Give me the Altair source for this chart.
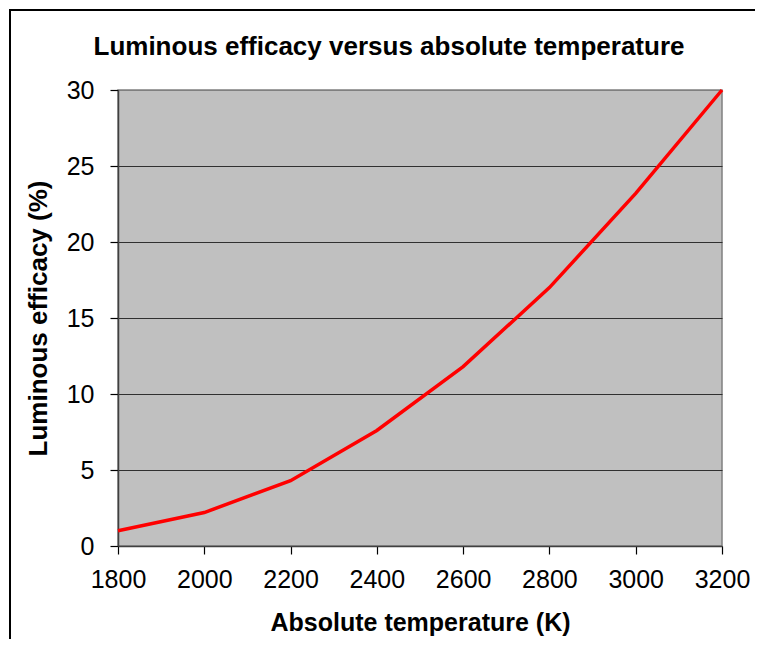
import altair as alt
import pandas as pd

temperature = [1800, 2000, 2200, 2400, 2600, 2800, 3000, 3200]
efficacy = [1.0, 2.2, 4.3, 7.6, 11.8, 17.0, 23.2, 30.0]
x_ticks = [1800, 2000, 2200, 2400, 2600, 2800, 3000, 3200]
y_ticks = [0, 5, 10, 15, 20, 25, 30]
title_text = ["Luminous efficacy versus absolute temperature"]

df = pd.DataFrame({"temperature": temperature, "efficacy": efficacy})
FONT = "Liberation Sans"

line = alt.Chart(df).mark_line(color="#FF0000", strokeWidth=3.5).encode(
    x=alt.X("temperature:Q",
            scale=alt.Scale(domain=[1800, 3200], nice=False, zero=False),
            axis=alt.Axis(values=x_ticks, format="d", title="Absolute temperature (K)",
                          grid=False, domainColor="#404040", domainWidth=1.5,
                          tickColor="#000000", tickSize=8, tickWidth=1.2,
                          labelFontSize=25, labelFont=FONT, labelColor="#000000",
                          labelPadding=13, labelFlush=False,
                          titleFontSize=25, titleFont=FONT, titleFontWeight="bold",
                          titleColor="#000000", titlePadding=18)),
    y=alt.Y("efficacy:Q",
            scale=alt.Scale(domain=[0, 30], nice=False),
            axis=alt.Axis(values=y_ticks, title="Luminous efficacy (%)",
                          grid=True,
                          gridColor={"condition": {"test": "datum.value === 30", "value": "#808080"},
                                     "value": "#303030"},
                          gridWidth=1.2,
                          domainColor="#404040", domainWidth=1.5,
                          tickColor="#000000", tickSize=8, tickWidth=1.2,
                          labelFontSize=25, labelFont=FONT, labelColor="#000000",
                          labelPadding=16, labelFlush=False,
                          titleFontSize=26, titleFont=FONT, titleFontWeight="bold",
                          titleColor="#000000", titlePadding=15)),
)

title = alt.Chart(pd.DataFrame({"t": title_text})).mark_text(
    font=FONT, fontSize=26, fontWeight="bold", color="#000000",
    align="center", baseline="middle"
).encode(text="t:N", x=alt.value(271), y=alt.value(-43))

frame = alt.Chart(pd.DataFrame({"a": [0]})).mark_rect(
    fill=None, filled=False, stroke="#000000", strokeWidth=2
).encode(
    x=alt.value(-108), y=alt.value(-80), x2=alt.value(800), y2=alt.value(700)
)

chart = alt.layer(line, title, frame).properties(
    width=604, height=456,
    autosize=alt.AutoSizeParams(type="none"),
    padding={"left": 110, "top": 82, "right": 33, "bottom": 93},
).configure_view(
    fill="#C0C0C0", stroke="#808080", strokeWidth=1.5
)

chart.save("out.html", embed_options={"renderer": "svg", "actions": False})
